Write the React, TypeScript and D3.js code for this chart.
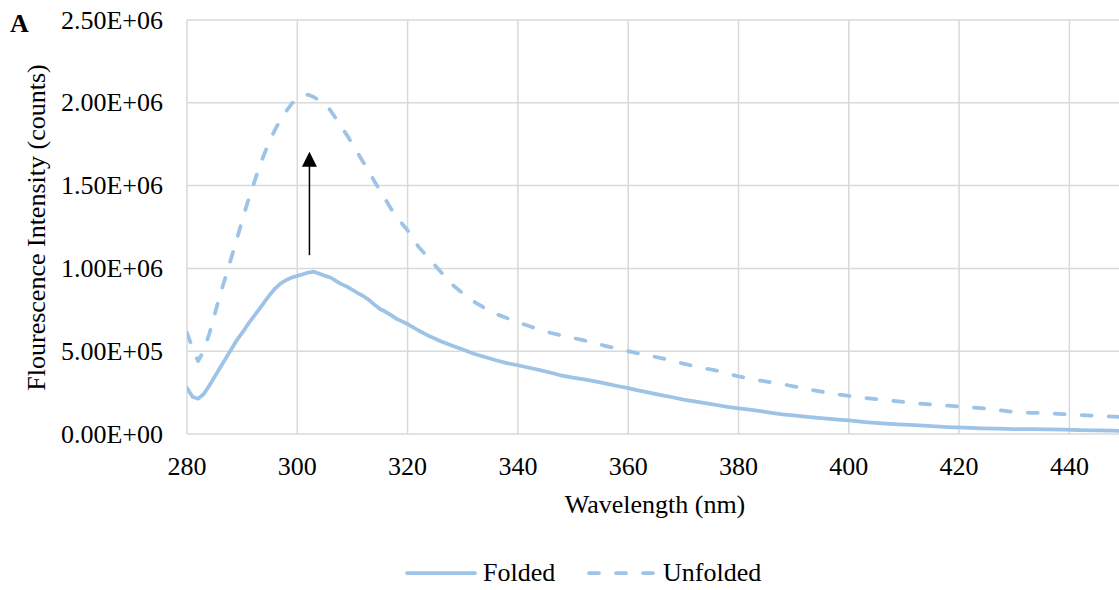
import React from "react";
import * as d3 from "d3";

const wavelengths = [280,281,282,283,284,285,286,287,288,289,290,291,292,293,294,295,296,297,298,299,300,301,302,303,304,305,306,307,308,309,310,311,312,313,314,315,316,317,318,319,320,322,324,326,328,330,332,334,336,338,340,342,344,346,348,350,352,354,356,358,360,362,364,366,368,370,372,374,376,378,380,382,384,386,388,390,392,394,396,398,400,403,406,409,412,415,418,421,424,427,430,433,436,439,442,445,448,450];

const folded = [278,225,213,240,290,345,400,455,510,565,610,660,705,750,795,840,880,910,930,945,955,965,975,980,968,955,945,925,905,890,870,850,832,810,780,755,738,718,695,680,664,625,590,560,535,510,485,465,445,428,415,400,386,370,352,340,330,318,304,290,277,262,248,235,222,208,197,186,175,164,155,147,138,128,119,112,105,99,93,87,82,72,64,58,53,47,42,38,34,32,30,29,28,26,24,22,20,19].map(v => v * 1000);

const unfolded = [610,520,440,500,600,720,840,950,1060,1170,1290,1400,1500,1600,1690,1770,1840,1900,1950,1995,2025,2045,2048,2035,2012,1990,1955,1905,1855,1805,1750,1695,1640,1585,1525,1470,1415,1360,1310,1270,1230,1130,1055,980,905,850,800,760,725,700,675,652,630,610,595,580,565,548,531,515,500,485,472,458,442,425,410,396,383,365,348,333,322,312,300,288,275,262,250,240,230,218,207,197,186,178,171,163,156,145,133,128,126,120,114,109,105,102].map(v => v * 1000);

const xTicks = [280,300,320,340,360,380,400,420,440];
const yTicks = [0,500000,1000000,1500000,2000000,2500000];
const yTickLabels = ["0.00E+00","5.00E+05","1.00E+06","1.50E+06","2.00E+06","2.50E+06"];
const seriesNames = ["Folded","Unfolded"];
const arrowX = [302.2];
const arrowFrom = [1.08e6];
const arrowTo = [1.705e6];

const W = 1119, H = 590;
const L = 187, T = 20, B = 434;
const FONT = "Liberation Serif, Times New Roman, DejaVu Serif, serif";
const COLOR = "#9dc3e6";
const GRID = "#d9d9d9";
const txt = { fontFamily: FONT, fontSize: "26px" };

export default function App() {
  const x = d3.scaleLinear().domain([280, 450]).range([L, L + 170 * 5.515]);
  const y = d3.scaleLinear().domain([0, 2500000]).range([B, T]);
  const line = d3.line<[number, number]>().x(d => x(d[0])).y(d => y(d[1]));
  const fData = wavelengths.map((w, i) => [w, folded[i]] as [number, number]);
  const uData = wavelengths.map((w, i) => [w, unfolded[i]] as [number, number]);
  const ax = x(arrowX[0]);
  const ay0 = y(arrowFrom[0]);
  const ay1 = y(arrowTo[0]);
  return (
    <svg width={W} height={H} style={{ position: "absolute", left: 0, top: 0, background: "#fff", fontFamily: FONT }}>
      <defs>
        <clipPath id="plot">
          <rect x={L} y={T - 5} width={W - L} height={B - T + 10} />
        </clipPath>
      </defs>
      {yTicks.map((t) => (
        <line key={"h" + t} x1={L} x2={W} y1={y(t)} y2={y(t)} stroke={GRID} strokeWidth={1.5} />
      ))}
      {xTicks.map((t) => (
        <line key={"v" + t} x1={x(t)} x2={x(t)} y1={T} y2={B} stroke={GRID} strokeWidth={1.5} />
      ))}
      <g clipPath="url(#plot)">
        <path d={line(fData) || ""} fill="none" stroke={COLOR} strokeWidth={3.75} strokeLinejoin="round" strokeLinecap="round" />
        <path d={line(uData) || ""} fill="none" stroke={COLOR} strokeWidth={3.75} strokeDasharray="10 17" strokeLinejoin="round" strokeLinecap="round" />
      </g>
      <line x1={ax} x2={ax} y1={ay0} y2={ay1 + 14} stroke="#000" strokeWidth={1.5} />
      <path d={`M${ax},${ay1} L${ax - 7.5},${ay1 + 15} L${ax + 7.5},${ay1 + 15} Z`} fill="#000" />
      {yTicks.map((t, i) => (
        <text key={"yl" + t} x={163} y={y(t) + 8.5} textAnchor="end" style={txt} fill="#000">{yTickLabels[i]}</text>
      ))}
      {xTicks.map((t) => (
        <text key={"xl" + t} x={x(t)} y={B + 41} textAnchor="middle" style={txt} fill="#000">{t}</text>
      ))}
      <text x={655} y={513} textAnchor="middle" style={txt} fill="#000">Wavelength (nm)</text>
      <text transform={`translate(45,227.5) rotate(-90)`} textAnchor="middle" style={txt} fill="#000">Flourescence Intensity (counts)</text>
      <text x={10} y={32} style={{ ...txt, fontWeight: "bold" }} fill="#000">A</text>
      <line x1={407} x2={475} y1={573} y2={573} stroke={COLOR} strokeWidth={3.75} strokeLinecap="round" />
      <text x={483} y={581} style={txt} fill="#000">{seriesNames[0]}</text>
      <line x1={589} x2={656} y1={573} y2={573} stroke={COLOR} strokeWidth={3.75} strokeDasharray="10 17" strokeLinecap="round" />
      <text x={663} y={581} style={txt} fill="#000">{seriesNames[1]}</text>
    </svg>
  );
}
